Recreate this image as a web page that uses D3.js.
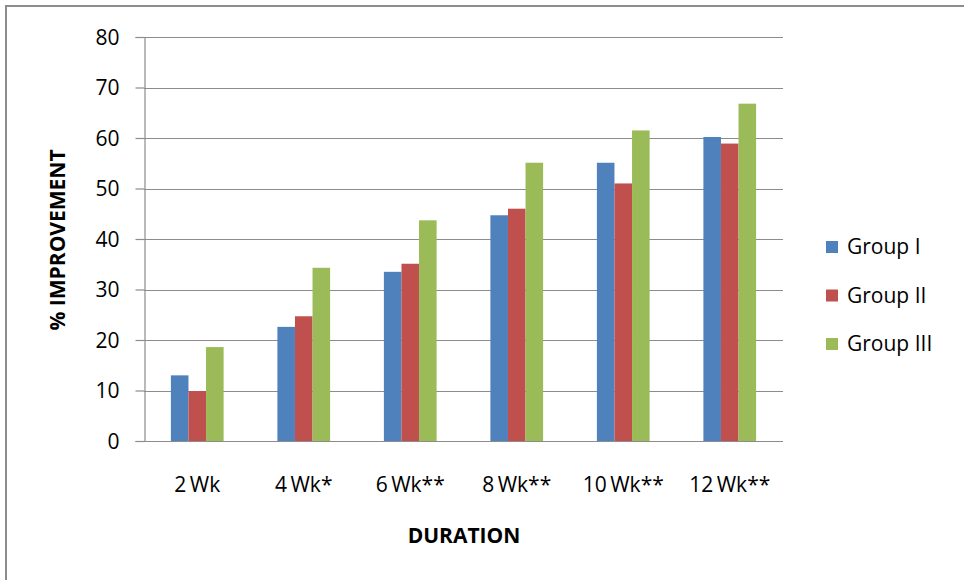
<!DOCTYPE html>
<html><head><meta charset="utf-8">
<script src="https://cdn.jsdelivr.net/npm/d3@7/dist/d3.min.js"></script>
<style>body{margin:0;background:#fff;}svg{display:block;}text{font-family:"Open Sans",sans-serif;fill:#000;}</style>
</head><body>
<svg id="c" width="964" height="580"></svg>
<script>
const categories = ["2 Wk","4 Wk*","6 Wk**","8 Wk**","10 Wk**","12 Wk**"];
const seriesNames = ["Group I","Group II","Group III"];
const groupI   = [13.0, 22.6, 33.5, 44.7, 55.1, 60.2];
const groupII  = [9.9, 24.7, 35.1, 46.0, 51.0, 58.9];
const groupIII = [18.6, 34.3, 43.7, 55.1, 61.5, 66.8];
const yTicks = [0,10,20,30,40,50,60,70,80];
const colors = ["#4f81bd","#c0504d","#9bbb59"];
const series = [groupI, groupII, groupIII];

const svg = d3.select("#c");
const L = 144, R = 783, T = 37, B = 441;
const x = d3.scaleBand().domain(categories).range([L, R]).paddingInner(0.505).paddingOuter(0.2525);
const xs = d3.scaleBand().domain(seriesNames).range([0, x.bandwidth()]);
const y = d3.scaleLinear().domain([0,80]).range([B, T]);

// frame
svg.append("path").attr("d", "M6,580 V6 H964").attr("fill","none").attr("stroke","#8c8c8c").attr("stroke-width",2);

// gridlines
svg.append("g").selectAll("line").data(yTicks.filter(d=>d>0)).join("line")
  .attr("x1", L).attr("x2", R).attr("y1", d=>Math.round(y(d))+0.5).attr("y2", d=>Math.round(y(d))+0.5)
  .attr("stroke","#8c8c8c").attr("stroke-width",1.2);

// bars
const g = svg.append("g");
series.forEach((vals, si) => {
  g.selectAll(null).data(vals).join("rect")
    .attr("x", (d,i)=> x(categories[i]) + xs(seriesNames[si]))
    .attr("width", xs.bandwidth())
    .attr("y", d=> y(d))
    .attr("height", d=> y(0) - y(d))
    .attr("fill", colors[si]);
});

// y axis
const yAxis = d3.axisLeft(y).tickValues(yTicks).tickSize(9).tickPadding(16);
const ya = svg.append("g").attr("transform", `translate(${L+0.5},0)`).call(yAxis);
ya.select(".domain").attr("stroke","#8c8c8c").attr("stroke-width",1.2);
ya.selectAll(".tick line").attr("stroke","#8c8c8c").attr("stroke-width",1.2);
ya.selectAll("text").style("font-size","21px").style("font-family","'Open Sans',sans-serif").attr("fill","#000").attr("dy","0.34em");

// x axis baseline
svg.append("line").attr("x1",L).attr("x2",R).attr("y1",B+0.5).attr("y2",B+0.5).attr("stroke","#8c8c8c").attr("stroke-width",1.2);

// x labels
svg.append("g").selectAll("text").data(categories).join("text")
  .attr("x", d=> x(d) + x.bandwidth()/2).attr("y", 492)
  .attr("text-anchor","middle").style("font-size","21px").style("word-spacing","-2px").text(d=>d);

// axis titles
svg.append("text").attr("x", 464).attr("y", 543).attr("text-anchor","middle")
  .style("font-size","21px").style("font-weight","bold").text("DURATION");
svg.append("text").attr("transform","translate(65,240) rotate(-90)").attr("text-anchor","middle")
  .style("font-size","21px").style("font-weight","bold").text("% IMPROVEMENT");

// legend
const lg = svg.append("g");
seriesNames.forEach((n,i)=>{
  const cy = 247 + i*48.5;
  lg.append("rect").attr("x",826).attr("y",cy-6).attr("width",12).attr("height",12).attr("fill",colors[i]);
  lg.append("text").attr("x",847).attr("y",cy).attr("dy","0.35em").style("font-size","21px").text(n);
});
</script>
</body></html>
